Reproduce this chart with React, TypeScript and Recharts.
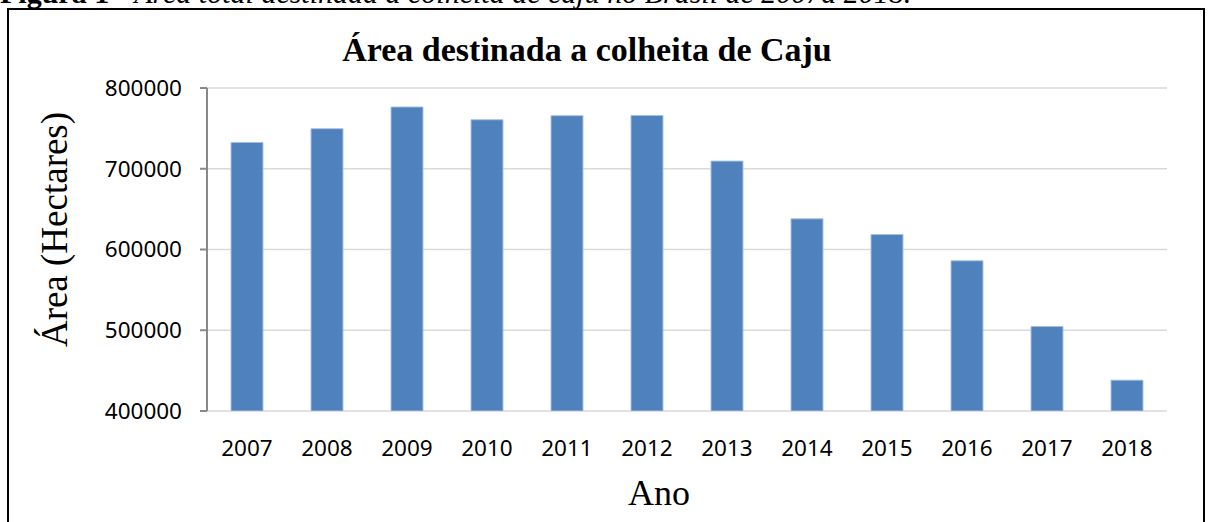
import { BarChart, Bar, XAxis, YAxis, CartesianGrid, Label } from "recharts";

const years = ["2007", "2008", "2009", "2010", "2011", "2012", "2013", "2014", "2015", "2016", "2017", "2018"];
const area = [732600, 749600, 776500, 760700, 765700, 766000, 709500, 638000, 618600, 586000, 504600, 438200];
const yTicks = [400000, 500000, 600000, 700000, 800000];
const boundaryTicks = [...years.map((_, i) => i), years.length];

const data = years.map((year, i) => ({ year, area: area[i] }));

const AXIS = "#898989";
const GRID = "#D9D9D9";
const tickFont = { fontFamily: "'Noto Sans', sans-serif", fontSize: 22.5, fill: "#000" };
const serif = "'Liberation Serif', 'Times New Roman', serif";

// Y label sits around the chart-area centre, a bit above the plot centre
const YLabel = ({ viewBox }: any) => (
  <text
    transform={`translate(${viewBox.x + 54},${viewBox.y + viewBox.height / 2 - 20}) rotate(-90)`}
    textAnchor="middle"
    dominantBaseline="central"
    style={{ fontFamily: serif, fontSize: 37, fill: "#000" }}
  >
    Área (Hectares)
  </text>
);

const XLabel = ({ viewBox }: any) => (
  <text
    x={viewBox.x + viewBox.width / 2 - 28}
    y={viewBox.y + 94}
    textAnchor="middle"
    style={{ fontFamily: serif, fontSize: 36, fill: "#000" }}
  >
    Ano
  </text>
);

export default function App() {
  return (
    <div style={{ position: "absolute", left: 0, top: 0, width: 1213, height: 522, overflow: "hidden", background: "#fff" }}>
      {/* figure caption, cut off at the top of the page */}
      <div
        style={{
          position: "absolute", left: 0, top: -22, whiteSpace: "nowrap",
          fontFamily: serif, fontSize: 30, lineHeight: "30px", color: "#000",
        }}
      >
        <b>Figura 1</b> - <i>Área total destinada à colheita de caju no Brasil de 2007a 2018.</i>
      </div>
      <div style={{ position: "absolute", left: 7, top: 8, width: 1194, height: 600, border: "2px solid #000", background: "#fff" }} />
      <div
        style={{
          position: "absolute", left: 0, top: 33, width: 1174, textAlign: "center",
          fontFamily: serif, fontWeight: "bold", fontSize: 34, lineHeight: "34px",
        }}
      >
        Área destinada a colheita de Caju
      </div>
      <div style={{ position: "absolute", left: 0, top: 0 }}>
        <BarChart
          width={1213}
          height={522}
          data={data}
          margin={{ top: 88, right: 46, bottom: 11, left: 0 }}
          barCategoryGap="30%"
        >
          <CartesianGrid horizontal vertical={false} stroke={GRID} strokeWidth={1.5} />
          <XAxis
            xAxisId="bounds"
            type="number"
            domain={[0, years.length]}
            ticks={boundaryTicks}
            height={0}
            tickSize={9}
            tickLine={{ stroke: AXIS, strokeWidth: 2 }}
            axisLine={{ stroke: AXIS, strokeWidth: 2 }}
            tickFormatter={() => ""}
            allowDataOverflow
          />
          <XAxis
            dataKey="year"
            height={100}
            axisLine={false}
            tickLine={false}
            tickSize={8}
            tickMargin={21}
            tick={tickFont}
            interval={0}
          >
            <Label content={<XLabel />} />
          </XAxis>
          <YAxis
            domain={[400000, 800000]}
            ticks={yTicks}
            width={207}
            tickSize={7}
            tickMargin={18}
            tick={tickFont}
            tickLine={{ stroke: AXIS, strokeWidth: 2 }}
            axisLine={{ stroke: AXIS, strokeWidth: 2 }}
            allowDataOverflow
          >
            <Label content={<YLabel />} />
          </YAxis>
          <YAxis
            yAxisId="right"
            orientation="right"
            domain={[400000, 800000]}
            width={0}
            tick={false}
            tickLine={false}
            axisLine={{ stroke: GRID, strokeWidth: 2 }}
          />
          <Bar dataKey="area" fill="#4F81BD" stroke="#A9C0DF" strokeWidth={1} isAnimationActive={false} />
        </BarChart>
      </div>
    </div>
  );
}
